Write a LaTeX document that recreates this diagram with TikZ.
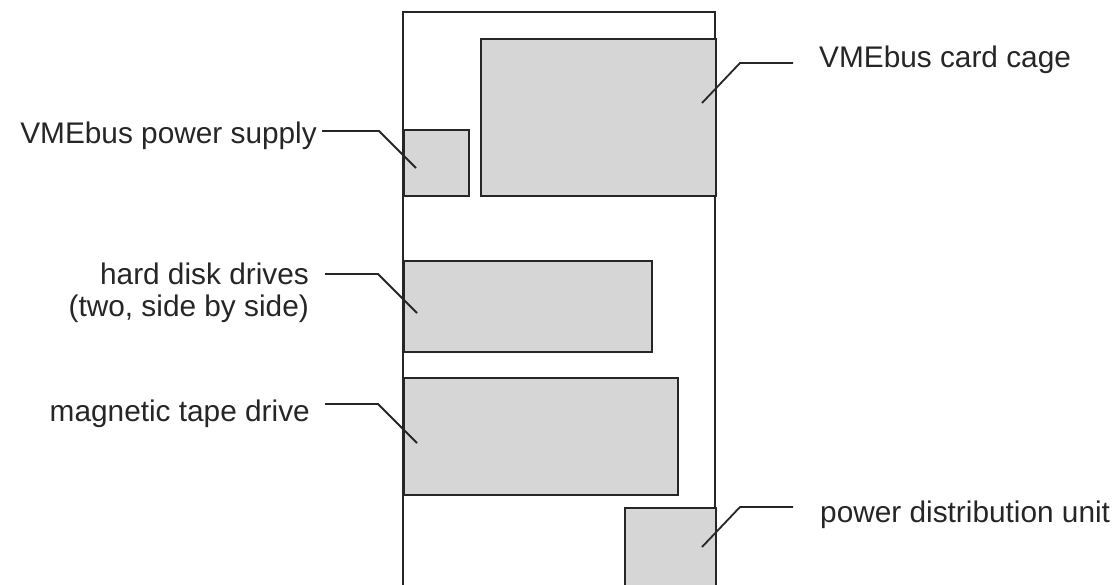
\documentclass[tikz,border=0pt]{standalone}
\usepackage{fontspec}
\setmainfont{Liberation Sans}
\begin{document}
\begin{tikzpicture}[x=1pt,y=-1pt,
  comp/.style={draw=black!85, line width=2pt, fill=black!16, inner sep=0pt, anchor=north west},
  leader/.style={draw=black!85, line width=1.8pt},
  lbl/.style={inner sep=0pt, font=\fontsize{29.8}{32}\selectfont, text=black!85},
  frame/.style={draw=black!85, line width=2pt}]
\useasboundingbox (0,0) rectangle (1116,584);
\clip (0,0) rectangle (1116,584);
% cabinet outline (open at the bottom of the view)
\coordinate (fbl) at (403,590);
\coordinate (ftl) at (403,12);
\coordinate (ftr) at (715,12);
\coordinate (fbr) at (715,590);
\draw[frame] (fbl) -- (ftl) -- (ftr) -- (fbr);
% components
\node[comp, minimum width=235pt, minimum height=157pt] (cage) at (480,38) {};
\node[comp, minimum width=65pt, minimum height=66pt] (psu) at (403,129) {};
\node[comp, minimum width=248pt, minimum height=91pt] (hdd) at (403,260) {};
\node[comp, minimum width=274pt, minimum height=117pt] (tape) at (403,377) {};
\node[comp, minimum width=91pt, minimum height=90pt] (pdu) at (624,507) {};
% labels
\node[lbl, anchor=base east] (psuL) at (317,143) {VMEbus power supply};
\node[lbl, anchor=base east, align=right] (hddL) at (309,316) {hard disk drives\\(two, side by side)};
\node[lbl, anchor=base east] (tapeL) at (310,421) {magnetic tape drive};
\node[lbl, anchor=base west] (cageL) at (819,67) {VMEbus card cage};
\node[lbl, anchor=base west] (pduL) at (820,522) {power distribution unit};
% leader points
\coordinate (psuA) at (322,131);
\coordinate (psuB) at (379,131);
\coordinate (psuC) at (416,168);
\coordinate (hddA) at (325,274);
\coordinate (hddB) at (378,274);
\coordinate (hddC) at (417,313);
\coordinate (tapeA) at (325,404);
\coordinate (tapeB) at (378,404);
\coordinate (tapeC) at (417,443);
\coordinate (cageA) at (793,63);
\coordinate (cageB) at (740,63);
\coordinate (cageC) at (702,103);
\coordinate (pduA) at (793,507);
\coordinate (pduB) at (740,507);
\coordinate (pduC) at (702,547);
% leaders
\draw[leader] (psuA) -- (psuB) -- (psuC);
\draw[leader] (hddA) -- (hddB) -- (hddC);
\draw[leader] (tapeA) -- (tapeB) -- (tapeC);
\draw[leader] (cageA) -- (cageB) -- (cageC);
\draw[leader] (pduA) -- (pduB) -- (pduC);
\end{tikzpicture}
\end{document}
